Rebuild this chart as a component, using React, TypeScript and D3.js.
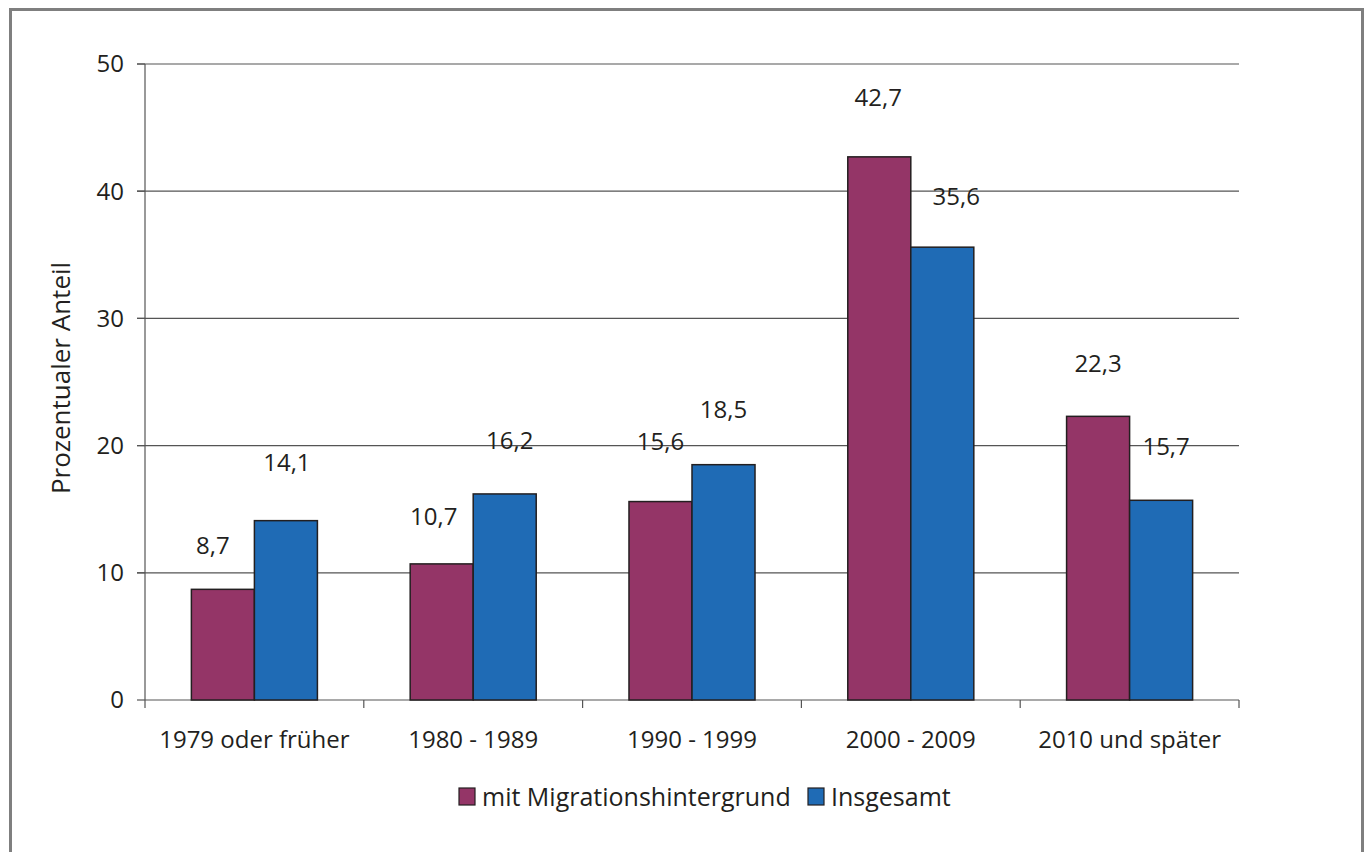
import React from "react";
import * as d3 from "d3";

const categories = ["1979 oder früher", "1980 - 1989", "1990 - 1999", "2000 - 2009", "2010 und später"];
const seriesNames = ["mit Migrationshintergrund", "Insgesamt"];
const migration = [8.7, 10.7, 15.6, 42.7, 22.3];
const total = [14.1, 16.2, 18.5, 35.6, 15.7];
const yTicks = [0, 10, 20, 30, 40, 50];
// label placement tweaks (pixels): horizontal shift and distance above bar top
const labelDx = [[-10, 1], [-8, 5], [0, 0], [-1, 14], [0, 5]];
const labelDy = [[44, 58], [47, 53], [60, 55], [59, 51], [53, 54]];

const colors = ["#943567", "#1F6BB5"];
const fmt = (v: number) => v.toFixed(1).replace(".", ",");
const FONT = "'Open Sans', 'Noto Sans', sans-serif";
const TXT = "#231f20";

export default function App() {
  const W = 1366, H = 852;
  const left = 145, right = 1239, top = 64, bottom = 700;
  const x = d3.scaleBand<string>().domain(categories).range([left, right]).paddingInner(0).paddingOuter(0);
  const y = d3.scaleLinear().domain([0, 50]).range([bottom, top]);
  const bw = x.bandwidth();
  const barW = bw * 0.288;
  const series = [migration, total];

  return (
    <svg width={W} height={H} style={{ position: "absolute", left: 0, top: 0, fontFamily: FONT }}>
      <rect x={0} y={0} width={W} height={H} fill="#fff" />
      <rect x={10.5} y={9.5} width={1352} height={860} fill="none" stroke="#7f7f7f" strokeWidth={3} />
      {yTicks.filter(t => t > 0).map(t => (
        <line key={"g" + t} x1={left - 8} x2={right} y1={y(t)} y2={y(t)} stroke="#555" strokeWidth={1.2} />
      ))}
      {yTicks.map(t => (
        <g key={"t" + t}>
          <line x1={left - 8} x2={left} y1={y(t)} y2={y(t)} stroke="#555" strokeWidth={1.2} />
          <text x={left - 21} y={y(t)} dy="0.35em" textAnchor="end" fontSize={24} fill={TXT}>{t}</text>
        </g>
      ))}
      <line x1={left} x2={left} y1={top} y2={bottom + 8} stroke="#555" strokeWidth={1.2} />
      <line x1={left} x2={right} y1={bottom} y2={bottom} stroke="#555" strokeWidth={1.2} />
      {categories.map((c, i) => (
        <line key={"xt" + i} x1={(x(c) as number) + bw} x2={(x(c) as number) + bw} y1={bottom} y2={bottom + 8} stroke="#555" strokeWidth={1.2} />
      ))}
      {categories.map((c, i) => {
        const cx = (x(c) as number) + bw / 2;
        return series.map((s, k) => {
          const bx = cx - barW + k * barW;
          const v = s[i];
          return (
            <g key={c + k}>
              <rect x={bx} y={y(v)} width={barW} height={bottom - y(v)} fill={colors[k]} stroke={TXT} strokeWidth={1.5} />
              <text x={bx + barW / 2 + labelDx[i][k]} y={y(v) - labelDy[i][k]} dy="0.35em" textAnchor="middle" fontSize={24} fill={TXT}>{fmt(v)}</text>
            </g>
          );
        });
      })}
      {categories.map((c) => (
        <text key={"cl" + c} x={(x(c) as number) + bw / 2} y={740} dy="0.35em" textAnchor="middle" fontSize={24} fill={TXT}>{c}</text>
      ))}
      <text transform={`translate(61,378) rotate(-90)`} textAnchor="middle" dy="0.35em" fontSize={26} fill={TXT}>Prozentualer Anteil</text>
      <g>
        <rect x={459} y={788} width={16} height={17} fill={colors[0]} stroke={TXT} strokeWidth={1.2} />
        <text x={482} y={797} dy="0.35em" fontSize={25} fill={TXT}>{seriesNames[0]}</text>
        <rect x={808} y={788} width={16} height={17} fill={colors[1]} stroke={TXT} strokeWidth={1.2} />
        <text x={831} y={797} dy="0.35em" fontSize={25} fill={TXT}>{seriesNames[1]}</text>
      </g>
    </svg>
  );
}
